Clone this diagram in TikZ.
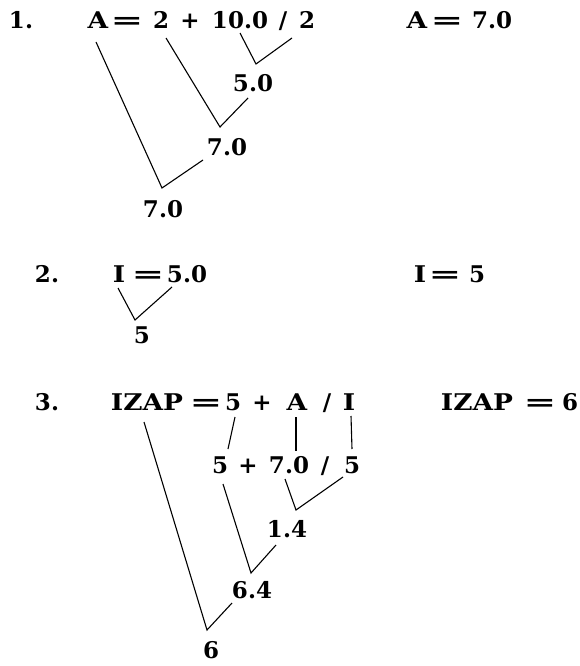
\documentclass[tikz,border=0pt]{standalone}
\usepackage{fontspec}
\setmainfont{DejaVu Serif}
\newfontfamily\wideserif[FakeStretch=1.15]{DejaVu Serif}
\newcommand{\eqsign}{\scalebox{1.7}[1]{=}}
\begin{document}
\begin{tikzpicture}[x=1pt,y=-1pt,
  tok/.style={anchor=base,inner sep=0pt,font=\fontsize{23}{27}\selectfont\bfseries},
  let/.style={tok,font=\fontsize{23}{27}\wideserif\bfseries},
  link/.style={draw,line width=1.1pt,line join=miter}]
\useasboundingbox (0,0) rectangle (580,666);
% ---------- 1 ----------
\node[tok] (n1) at (21,29) {1.};
\node[let] (a1A) at (98,29) {A};
\node[tok] (a1eq) at (127,29) {\eqsign};
\node[tok] (a1two) at (161,29) {2};
\node[tok] (a1plus) at (190,29) {+};
\node[tok] (a1ten) at (240,29) {10.0};
\node[tok] (a1sl) at (283,29) {/};
\node[tok] (a1twob) at (307,29) {2};
\node[tok] (r1a) at (253,92) {5.0};
\node[tok] (r1b) at (227,155) {7.0};
\node[tok] (r1c) at (163,217) {7.0};
\node[let] (e1A) at (417,29) {A};
\node[tok] (e1eq) at (447,29) {\eqsign};
\node[tok] (e1v) at (492,29) {7.0};
\coordinate (p1a) at (240,33); \coordinate (v1a) at (256,64); \coordinate (q1a) at (292,38);
\coordinate (p1b) at (166,38); \coordinate (v1b) at (220,127); \coordinate (q1b) at (248,98);
\coordinate (p1c) at (96,42);  \coordinate (v1c) at (162,188); \coordinate (q1c) at (203,160);
\draw[link] (p1a) -- (v1a) -- (q1a);
\draw[link] (p1b) -- (v1b) -- (q1b);
\draw[link] (p1c) -- (v1c) -- (q1c);
% ---------- 2 ----------
\node[tok] (n2) at (47,282) {2.};
\node[let] (b2I) at (119,282) {I};
\node[tok] (b2eq) at (148,282) {\eqsign};
\node[tok] (b2v) at (187,282) {5.0};
\node[tok] (r2) at (142,343) {5};
\node[let] (e2I) at (420,282) {I};
\node[tok] (e2eq) at (445,282) {\eqsign};
\node[tok] (e2v) at (477,282) {5};
\coordinate (p2a) at (118,288); \coordinate (v2) at (135,320); \coordinate (q2) at (172,287);
\draw[link] (p2a) -- (v2) -- (q2);
% ---------- 3 ----------
\node[tok] (n3) at (47,410) {3.};
\node[let] (c3Z) at (147,410) {IZAP};
\node[tok] (c3eq) at (206,410) {\eqsign};
\node[tok] (c3five) at (233,410) {5};
\node[tok] (c3plus) at (262,410) {+};
\node[let] (c3A) at (297,410) {A};
\node[tok] (c3sl) at (327,410) {/};
\node[let] (c3I) at (349,410) {I};
\node[tok] (d3five) at (220,473) {5};
\node[tok] (d3plus) at (248,473) {+};
\node[tok] (d3A) at (289,473) {7.0};
\node[tok] (d3sl) at (325,473) {/};
\node[tok] (d3I) at (352,473) {5};
\node[tok] (r3a) at (287,537) {1.4};
\node[tok] (r3b) at (252,598) {6.4};
\node[tok] (r3c) at (211,658) {6};
\node[let] (e3Z) at (477,410) {IZAP};
\node[tok] (e3eq) at (540,410) {\eqsign};
\node[tok] (e3v) at (570,410) {6};
\coordinate (s1a) at (235,417); \coordinate (s1b) at (228,449);
\coordinate (s2a) at (296,417); \coordinate (s2b) at (296,451);
\coordinate (s3a) at (351,416); \coordinate (s3b) at (352,449);
\draw[link] (s1a) -- (s1b);
\draw[link] (s2a) -- (s2b);
\draw[link] (s3a) -- (s3b);
\coordinate (p3a) at (285,479); \coordinate (v3a) at (296,510); \coordinate (q3a) at (343,477);
\coordinate (p3b) at (223,484); \coordinate (v3b) at (251,573); \coordinate (q3b) at (276,545);
\coordinate (p3c) at (144,422); \coordinate (v3c) at (207,630); \coordinate (q3c) at (232,603);
\draw[link] (p3a) -- (v3a) -- (q3a);
\draw[link] (p3b) -- (v3b) -- (q3b);
\draw[link] (p3c) -- (v3c) -- (q3c);
\end{tikzpicture}
\end{document}
